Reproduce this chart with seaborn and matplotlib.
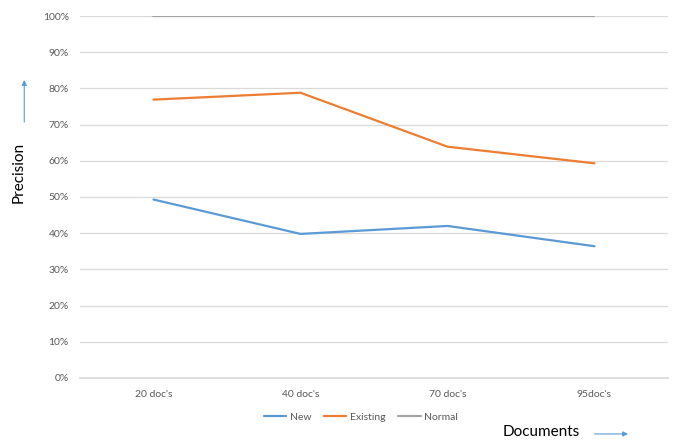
import matplotlib
matplotlib.use("Agg")
import matplotlib.pyplot as plt
import seaborn as sns
import pandas as pd

categories = ["20 doc's", "40 doc's", "70 doc's", "95doc's"]
new_vals = [49.3, 39.8, 42.0, 36.4]
existing_vals = [76.9, 78.8, 63.9, 59.3]
normal_vals = [100, 100, 100, 100]
series_names = ["New", "Existing", "Normal"]
y_ticks = [0, 10, 20, 30, 40, 50, 60, 70, 80, 90, 100]

df = pd.DataFrame({
    "doc": categories * 3,
    "precision": new_vals + existing_vals + normal_vals,
    "series": [s for s in series_names for _ in categories],
})

sns.set_theme(style="white")
plt.rcParams["font.family"] = ["Lato", "DejaVu Sans"]

fig = plt.figure(figsize=(6.74, 4.41), dpi=100)
ax = fig.add_axes([0.1187, 0.1429, 0.8723, 0.8208])

palette = {"New": "#5B9BD5", "Existing": "#ED7D31", "Normal": "#A5A5A5"}
sns.lineplot(data=df, x="doc", y="precision", hue="series", palette=palette,
             linewidth=1.6, ax=ax, legend=False, sort=False)

ax.set_xlim(-0.5, len(categories) - 0.5)
ax.set_ylim(0, 100)
ax.set_yticks(y_ticks)
ax.set_yticklabels([f"{t}%" for t in y_ticks], fontsize=7.5, color="#595959")
ax.set_xticks(range(len(categories)))
ax.set_xticklabels(categories, fontsize=7.5, color="#595959")
ax.tick_params(axis="y", length=0, pad=8)
ax.tick_params(axis="x", length=0, pad=9)
ax.grid(axis="y", color="#D9D9D9", linewidth=0.9)
ax.set_axisbelow(True)
for s in ["top", "right", "left"]:
    ax.spines[s].set_visible(False)
ax.spines["bottom"].set_color("#D9D9D9")
ax.set_xlabel("")
ax.set_ylabel("")

# Legend below the axis
handles = [plt.Line2D([], [], color=palette[n], linewidth=1.6) for n in series_names]
fig.legend(handles, series_names, loc="center", bbox_to_anchor=(0.535, 0.054),
           ncol=3, frameon=False, fontsize=7.5, handlelength=2.2, handletextpad=0.3,
           columnspacing=1.2, labelcolor="#595959")

# Axis titles with direction arrows
fig.text(0.027, 0.608, "Precision", rotation=90, ha="center", va="center",
         fontsize=11, color="#000000")
fig.patches.append(matplotlib.patches.FancyArrowPatch(
    (0.036, 0.717), (0.036, 0.825), transform=fig.transFigure,
    arrowstyle="-|>,head_length=3,head_width=1.5", color="#5B9BD5", linewidth=0.8))
fig.text(0.803, 0.020, "Documents", ha="center", va="center", fontsize=11, color="#000000")
fig.patches.append(matplotlib.patches.FancyArrowPatch(
    (0.878, 0.016), (0.936, 0.016), transform=fig.transFigure,
    arrowstyle="-|>,head_length=3,head_width=1.5", color="#5B9BD5", linewidth=0.8))

fig.savefig("out.png", dpi=100)
